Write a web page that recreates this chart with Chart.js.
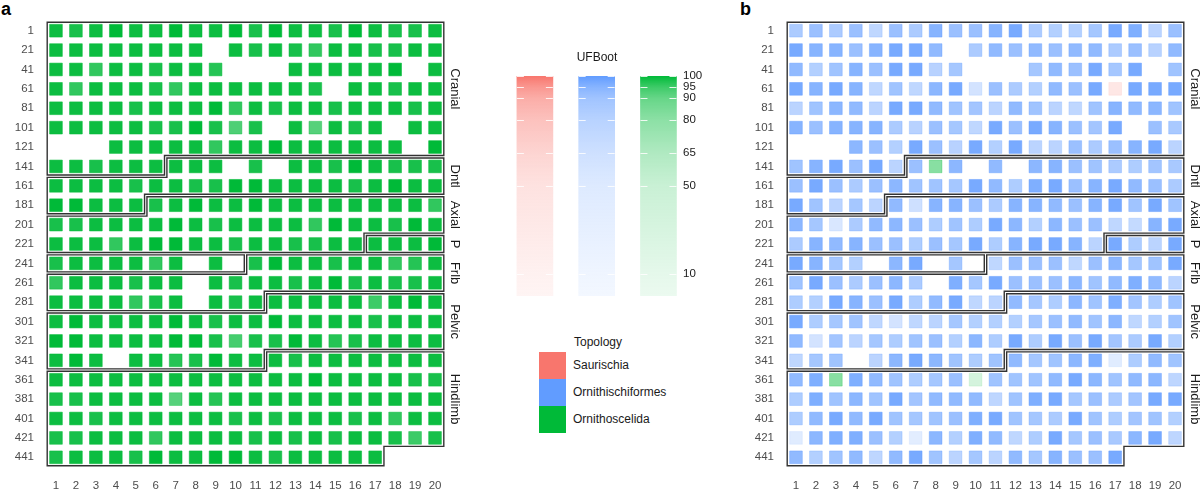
<!DOCTYPE html>
<html>
<head>
<meta charset="utf-8">
<script src="https://cdn.jsdelivr.net/npm/chart.js@4.4.1/dist/chart.umd.min.js"></script>
<style>
  body { margin: 0; width: 1200px; height: 490px; background: #fff; position: relative; overflow: hidden;
         font-family: "Liberation Sans", Arial, sans-serif; }
  canvas { position: absolute; }
  .tag { position: absolute; font-weight: bold; font-size: 18px; line-height: 18px; }
  .ttl { position: absolute; font-size: 12px; line-height: 14px; color: #1a1a1a; text-align: center; }
  .key { position: absolute; left: 539px; width: 27px; height: 27px; }
  .lab { position: absolute; left: 573px; font-size: 12px; line-height: 27px; color: #1a1a1a; }
</style>
</head>
<body>
<div class="tag" style="left:1px;top:0">a</div>
<div class="tag" style="left:740px;top:0">b</div>
<canvas id="heatA" width="475" height="490" style="left:0;top:0"></canvas>
<canvas id="heatB" width="475" height="490" style="left:740px;top:0"></canvas>
<canvas id="scale" width="240" height="330" style="left:490px;top:0"></canvas>
<div class="ttl" style="left:567px;top:50px;width:60px">UFBoot</div>
<div class="ttl" style="left:558px;top:335px;width:80px">Topology</div>
<div id="keys"></div>

<script>
Chart.defaults.font.family = '"Liberation Sans", Arial, sans-serif'

// --- data ---------------------------------------------------------------
const rowLabels = [1, 21, 41, 61, 81, 101, 121, 141, 161, 181, 201, 221, 241, 261, 281, 301, 321, 341, 361, 381, 401, 421, 441]
const colLabels = [1, 2, 3, 4, 5, 6, 7, 8, 9, 10, 11, 12, 13, 14, 15, 16, 17, 18, 19, 20]

const topologies = ['Saurischia', 'Ornithischiformes', 'Ornithoscelida']
const topoColors = ['#F8766D', '#619CFF', '#00BA38']

// anatomical regions, as first and last character number
const regions = ['Cranial', 'Dntl', 'Axial', 'P', 'Frlb', 'Pelvic', 'Hindlimb']
const regionStart = [1, 147, 186, 237, 251, 292, 352]
const regionEnd = [146, 185, 236, 250, 291, 351, 457]

// ticks of the UFBoot colour bars
const scaleTicks = [10, 50, 65, 80, 90, 95, 100]

// panel a: UFBoot per character (null = no support drawn)
const ufbootA = [
  [99,98,99,100,99,99,100,99,99,100,98,100,99,99,98,100,99,98,98,99],
  [99,99,99,99,99,99,99,99,null,99,98,99,98,96,99,99,98,98,99,99],
  [99,99,96,99,99,98,99,99,97,null,null,null,99,99,99,99,99,100,null,99],
  [99,96,99,99,99,98,96,99,99,99,99,99,99,98,null,99,99,98,99,99],
  [99,99,99,99,98,99,99,99,100,96,99,98,99,99,98,99,99,99,98,99],
  [99,99,99,99,99,98,98,100,98,93,98,null,99,92,99,98,99,null,99,99],
  [null,null,null,99,99,99,99,99,96,99,99,100,99,99,99,99,99,99,null,100],
  [99,99,98,99,99,99,99,99,99,null,98,null,99,99,98,100,99,98,98,98],
  [99,99,99,99,98,99,99,98,98,100,100,99,99,99,99,98,99,100,99,99],
  [100,100,99,99,99,98,99,100,99,99,100,99,99,99,99,99,99,99,99,96],
  [98,98,99,99,99,99,100,99,98,99,99,99,99,96,100,99,99,98,100,99],
  [99,99,99,96,99,100,100,99,99,98,99,99,98,98,99,99,99,99,99,100],
  [98,99,99,99,99,96,99,null,99,null,98,100,99,99,98,99,99,96,97,99],
  [96,99,99,99,98,99,99,null,99,98,99,99,98,99,100,98,99,98,98,99],
  [99,99,99,99,96,98,99,null,99,98,99,99,99,99,99,99,95,99,100,99],
  [99,100,99,99,99,99,100,99,98,99,99,100,99,99,99,99,98,99,99,99],
  [100,100,99,99,99,99,100,100,98,94,98,98,100,99,97,98,99,99,99,99],
  [99,100,99,null,99,99,97,98,100,99,99,99,98,99,99,99,99,99,99,99],
  [99,99,99,99,99,99,99,99,99,99,99,99,99,100,99,99,99,99,98,98],
  [98,98,99,99,99,99,92,99,97,99,99,99,99,99,99,99,99,99,99,99],
  [99,99,98,99,99,99,99,99,99,98,99,98,99,99,99,98,99,96,99,99],
  [98,98,99,99,99,96,99,99,99,99,98,99,98,99,98,99,99,98,95,98],
  [98,99,99,99,98,100,99,99,100,100,99,98,99,99,99,99,99]
]
const mainTopoA = 'Ornithoscelida'
const otherTopoA = []

// panel b
const ufbootB = [
  [85,91,85,91,75,91,85,95,91,91,95,97,85,82,82,88,97,96,78,91],
  [97,95,95,91,95,97,97,93,null,85,93,91,93,91,93,93,85,91,80,93],
  [93,82,90,95,91,97,97,80,88,null,null,null,88,93,91,97,88,97,null,90],
  [97,95,97,95,75,90,75,94,97,60,91,85,82,93,91,97,38,97,97,97],
  [78,90,94,93,78,97,97,93,90,89,78,93,90,78,75,90,95,93,94,90],
  [95,91,95,95,95,85,80,91,88,75,97,91,97,95,91,89,97,null,91,86],
  [null,null,null,94,91,82,97,91,80,97,82,97,78,78,91,85,91,95,97,78],
  [90,95,97,91,97,78,91,81,94,null,93,null,94,95,91,90,85,84,89,86],
  [91,97,91,85,91,94,90,90,88,97,93,84,96,97,91,95,97,93,91,85],
  [97,90,78,88,78,93,65,95,95,91,85,95,95,93,91,95,97,90,97,90],
  [94,88,55,85,93,94,91,84,90,84,97,94,82,94,91,91,75,72,95,97],
  [85,95,93,95,91,91,84,91,88,97,84,95,97,97,95,78,97,84,78,97],
  [97,95,88,82,null,94,97,null,88,null,75,91,91,91,75,91,94,88,90,97],
  [90,97,91,85,91,94,85,null,96,88,97,91,91,91,94,90,93,96,93,78],
  [84,82,97,95,91,97,84,93,97,75,78,93,88,84,94,90,96,89,84,90],
  [97,84,88,90,75,60,75,78,88,82,82,82,88,91,93,90,94,75,82,90],
  [93,60,89,78,88,84,90,91,82,94,84,97,84,97,91,97,89,85,97,82],
  [75,88,90,null,78,94,97,94,90,84,90,93,88,90,94,96,45,84,93,90],
  [93,96,81,96,93,90,84,88,91,35,90,90,90,93,97,94,90,93,94,76],
  [84,96,90,94,90,97,89,93,93,93,76,90,96,97,88,91,85,89,97,97],
  [84,93,97,93,97,90,88,90,91,96,97,90,88,85,97,90,84,89,90,82],
  [45,94,96,96,91,82,40,94,82,96,93,75,84,97,88,91,86,94,97,76],
  [93,82,90,93,76,93,97,90,78,88,78,93,88,95,91,91,97]
]
const mainTopoB = 'Ornithischiformes'
// cells whose best topology differs: [row label, column, topology]
const otherTopoB = [[61, 17, 'Saurischia'], [141, 8, 'Ornithoscelida'], [361, 3, 'Ornithoscelida'], [361, 10, 'Ornithoscelida']]

// --- colour scale: UFBoot -> opacity --------------------------------------
const alphaStops = [[0, 0.08], [10, 0.1], [50, 0.21], [65, 0.31], [80, 0.45], [90, 0.6], [95, 0.76], [100, 1]]

function alphaFor(v) {
  for (let i = 1; i < alphaStops.length; i++) {
    const [v0, a0] = alphaStops[i - 1], [v1, a1] = alphaStops[i]
    if (v <= v1) return a0 + (a1 - a0) * (v - v0) / (v1 - v0)
  }
  return 1
}

function rgba(hex, a) {
  const n = parseInt(hex.slice(1), 16)
  return `rgba(${n >> 16},${(n >> 8) & 255},${n & 255},${a.toFixed(3)})`
}

function fillFor(raw, k) {
  if (!raw) return 'transparent'
  return rgba(topoColors[topologies.indexOf(raw.topo)], alphaFor(raw.v) * k)
}

//turn the value rows into scatter points
function cells(values, mainTopo, others) {
  const pts = []
  values.forEach((row, r) => row.forEach((v, c) => {
    if (v == null) return
    const o = others.find(e => e[0] == rowLabels[r] && e[1] == c + 1)
    pts.push({ x: c + 1, y: r, v: v, topo: o ? o[2] : mainTopo })
  }))
  return pts
}

//outline of each region + side label
const regionOutline = {
  id: 'regionOutline',
  afterDatasetsDraw(chart) {
    const { ctx, chartArea, scales: { x, y } } = chart
    const ex = k => x.getPixelForValue(k + 0.5)
    const ey = r => y.getPixelForValue(r - 0.5)
    const d = 1.2
    const rect = (c0, c1, r) => [[c0, r, 1, 1], [c1, r, -1, 1], [c1, r + 1, -1, -1], [c0, r + 1, 1, -1]]

    ctx.save()
    ctx.strokeStyle = '#333'
    ctx.lineWidth = 1.4
    regions.forEach((name, i) => {
      const r1 = Math.floor((regionStart[i] - 1) / 20), s = (regionStart[i] - 1) % 20
      const r2 = Math.floor((regionEnd[i] - 1) / 20), e = (regionEnd[i] - 1) % 20 + 1
      let polys
      if (r1 == r2) polys = [rect(s, e, r1)]
      else if (r2 == r1 + 1 && e < s) polys = [rect(s, 20, r1), rect(0, e, r2)]
      else polys = [[[s, r1, 1, 1], [20, r1, -1, 1], [20, r2, -1, -1], [e, r2, -1, -1],
                     [e, r2 + 1, -1, -1], [0, r2 + 1, 1, -1], [0, r1 + 1, 1, 1], [s, r1 + 1, 1, 1]]]
      polys.forEach(p => {
        ctx.beginPath()
        p.forEach(([cx, ry, sx, sy], j) => {
          const px = ex(cx) + sx * d, py = ey(ry) + sy * d
          j ? ctx.lineTo(px, py) : ctx.moveTo(px, py)
        })
        ctx.closePath()
        ctx.stroke()
      })

      //side label, rotated
      ctx.save()
      ctx.translate(chartArea.right + 10, y.getPixelForValue((r1 + r2) / 2 - 0.5))
      ctx.rotate(Math.PI / 2)
      ctx.font = '13px "Liberation Sans", Arial, sans-serif'
      ctx.fillStyle = '#1a1a1a'
      ctx.textAlign = 'center'
      ctx.textBaseline = 'middle'
      ctx.fillText(name, 0, 0)
      ctx.restore()
    })
    ctx.restore()
  }
}

function heatmap(id, values, mainTopo, others) {
  return new Chart(document.getElementById(id), {
    type: 'scatter',
    data: {
      datasets: [{
        data: cells(values, mainTopo, others),
        pointStyle: 'rect',
        pointRadius: 9,
        pointHoverRadius: 9,
        pointBorderWidth: 1,
        pointHoverBorderWidth: 1,
        pointBackgroundColor: c => fillFor(c.raw, 1),
        pointBorderColor: c => fillFor(c.raw, 0.55),
        clip: false
      }]
    },
    options: {
      responsive: false,
      animation: false,
      events: [],
      layout: { padding: { top: 21, right: 30, left: 0, bottom: 0 } },
      plugins: { legend: { display: false }, tooltip: { enabled: false } },
      scales: {
        x: {
          type: 'linear', min: 0.5, max: 20.5,
          grid: { display: false, drawTicks: false }, border: { display: false },
          afterBuildTicks: s => { s.ticks = colLabels.map(v => ({ value: v })) },
          afterFit: s => { s.height = 23 },
          ticks: { padding: 12, color: '#4d4d4d', font: { size: 11.5 }, maxRotation: 0, autoSkip: false }
        },
        y: {
          type: 'linear', min: -0.5, max: 22.5, reverse: true,
          grid: { display: false, drawTicks: false }, border: { display: false },
          afterBuildTicks: s => { s.ticks = rowLabels.map((_, i) => ({ value: i })) },
          afterFit: s => { s.width = 46 },
          ticks: { padding: 12, color: '#4d4d4d', font: { size: 11.5 }, autoSkip: false, callback: v => rowLabels[v] }
        }
      }
    },
    plugins: [regionOutline]
  })
}

heatmap('heatA', ufbootA, mainTopoA, otherTopoA)
heatmap('heatB', ufbootB, mainTopoB, otherTopoB)

// --- UFBoot colour bars ---------------------------------------------------
const scaleMarks = {
  id: 'scaleMarks',
  afterDatasetsDraw(chart) {
    const { ctx, scales: { y } } = chart
    ctx.save()
    ctx.strokeStyle = 'rgba(255,255,255,0.85)'
    ctx.lineWidth = 1
    chart.getDatasetMeta(0).data.forEach(bar => {
      const l = bar.x - bar.width / 2, r = bar.x + bar.width / 2
      scaleTicks.forEach(v => {
        const py = Math.round(y.getPixelForValue(v)) + 0.5
        ctx.beginPath()
        ctx.moveTo(l, py); ctx.lineTo(l + 7, py)
        ctx.moveTo(r - 7, py); ctx.lineTo(r, py)
        ctx.stroke()
      })
    })
    ctx.restore()
  }
}

new Chart(document.getElementById('scale'), {
  type: 'bar',
  data: {
    datasets: [{
      data: topologies.map((t, i) => ({ x: i + 1, y: 100 })),
      barThickness: 36,
      borderWidth: 0,
      backgroundColor: c => {
        const area = c.chart.chartArea
        if (!area || c.dataIndex == null) return 'transparent'
        const g = c.chart.ctx.createLinearGradient(0, area.bottom, 0, area.top)
        alphaStops.forEach(([v, a]) => g.addColorStop(v / 100, rgba(topoColors[c.dataIndex], a)))
        return g
      }
    }]
  },
  options: {
    responsive: false,
    animation: false,
    events: [],
    layout: { padding: { top: 76, bottom: 34, left: 14, right: 0 } },
    plugins: { legend: { display: false }, tooltip: { enabled: false } },
    scales: {
      x: { type: 'linear', min: 0.5, max: 3.3, offset: false, display: false },
      y: {
        position: 'right', min: 0, max: 100,
        grid: { display: false, drawTicks: false }, border: { display: false },
        afterBuildTicks: s => { s.ticks = scaleTicks.map(v => ({ value: v })) },
        afterFit: s => { s.width = 53 },
        ticks: { padding: 6, color: '#1a1a1a', font: { size: 11.5 }, autoSkip: false }
      }
    }
  },
  plugins: [scaleMarks]
})

// --- topology key ---------------------------------------------------------
const keys = document.getElementById('keys')
topologies.forEach((t, i) => {
  const top = 352 + i * 27
  keys.innerHTML += `<div class="key" style="top:${top}px;background:${topoColors[i]}"></div>` +
                    `<div class="lab" style="top:${top}px">${t}</div>`
})
</script>
</body>
</html>
